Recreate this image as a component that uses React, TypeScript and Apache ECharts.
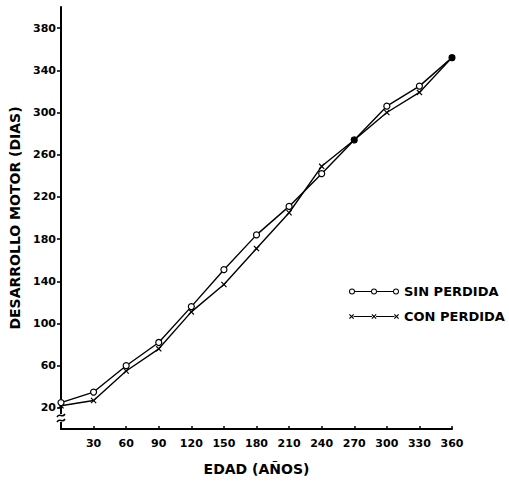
import React, { useEffect, useRef } from "react";
import * as echarts from "echarts";

const ages = [0, 30, 60, 90, 120, 150, 180, 210, 240, 270, 300, 330, 360];
const sinPerdida = [25, 35, 60, 82, 116, 151, 184, 211, 242, 274, 306, 325, 352];
const conPerdida = [22, 27, 55, 76, 111, 137, 171, 205, 249, 274, 300, 319, 352];
const xTicks = [30, 60, 90, 120, 150, 180, 210, 240, 270, 300, 330, 360];
const yTicks = [20, 60, 100, 140, 180, 220, 260, 300, 340, 380];

const FONT = "DejaVu Sans";

function ring(cx: number, cy: number, R: number, r: number) {
  return (
    `M${cx - R},${cy}A${R},${R} 0 1,1 ${cx + R},${cy}A${R},${R} 0 1,1 ${cx - R},${cy}Z` +
    `M${cx - r},${cy}A${r},${r} 0 1,0 ${cx + r},${cy}A${r},${r} 0 1,0 ${cx - r},${cy}Z`
  );
}
function cross(cx: number, cy: number, h: number, t: number) {
  const a = h, d = t;
  return (
    `M${cx - a},${cy - a + d}L${cx - a + d},${cy - a}L${cx},${cy - d}L${cx + a - d},${cy - a}L${cx + a},${cy - a + d}` +
    `L${cx + d},${cy}L${cx + a},${cy + a - d}L${cx + a - d},${cy + a}L${cx},${cy + d}L${cx - a + d},${cy + a}` +
    `L${cx - a},${cy + a - d}L${cx - d},${cy}Z`
  );
}
function bar(x1: number, x2: number, cy: number, t: number) {
  return `M${x1},${cy - t / 2}L${x2},${cy - t / 2}L${x2},${cy + t / 2}L${x1},${cy + t / 2}Z`;
}

const sinIcon =
  "path://" +
  ring(4, 4, 3, 2) + bar(7, 23, 4, 1) + ring(26, 4, 3, 2) + bar(29, 45, 4, 1) + ring(48, 4, 3, 2);
const conIcon =
  "path://" +
  cross(4, 4, 2.5, 0.8) + bar(6, 24, 4, 1) + cross(26, 4, 2.5, 0.8) + bar(28, 46, 4, 1) + cross(48, 4, 2.5, 0.8);
const xSymbol = "path://" + cross(5, 5, 5, 1.4);

export default function App() {
  const ref = useRef<HTMLDivElement>(null);
  useEffect(() => {
    if (!ref.current) return;
    const chart = echarts.init(ref.current, null, { renderer: "svg" });
    const labelStyle = { fontFamily: FONT, fontWeight: "bold" as const, fontSize: 11, color: "#000" };
    chart.setOption({
      animation: false,
      backgroundColor: "#fff",
      grid: { left: 61, right: 57, top: 7, bottom: 51 },
      xAxis: {
        type: "value",
        min: 0,
        max: 360,
        name: "EDAD (AÑOS)",
        nameLocation: "middle",
        nameGap: 33,
        nameTextStyle: { fontFamily: FONT, fontWeight: "bold", fontSize: 14, color: "#000" },
        axisLine: { onZero: false, lineStyle: { color: "#000", width: 2 } },
        axisTick: { inside: true, length: 3, customValues: xTicks, lineStyle: { color: "#000", width: 1.5 } },
        axisLabel: { ...labelStyle, margin: 9, customValues: xTicks },
        splitLine: { show: false },
      },
      yAxis: {
        type: "value",
        min: 0,
        max: 400,
        name: "DESARROLLO MOTOR (DIAS)",
        nameLocation: "middle",
        nameGap: 31,
        nameTextStyle: { fontFamily: FONT, fontWeight: "bold", fontSize: 14, color: "#000" },
        axisLine: { show: true, onZero: false, lineStyle: { color: "#000", width: 2 } },
        axisTick: { show: true, length: 4, customValues: yTicks, lineStyle: { color: "#000", width: 1.5 } },
        axisLabel: { ...labelStyle, margin: 5, customValues: yTicks },
        splitLine: { show: false },
      },
      legend: {
        orient: "vertical",
        left: 344,
        top: 280,
        itemWidth: 50,
        itemHeight: 6,
        itemGap: 12,
        textStyle: { fontFamily: FONT, fontWeight: "bold", fontSize: 13, color: "#000" },
        data: [
          { name: "SIN PERDIDA", icon: sinIcon, itemStyle: { color: "#000", borderWidth: 0 } },
          { name: "CON PERDIDA", icon: conIcon, itemStyle: { color: "#000", borderWidth: 0 } },
        ],
      },
      graphic: [
        { type: "rect", shape: { x: 57, y: 414, width: 8, height: 8 }, style: { fill: "#fff" }, z: 100 },
        {
          type: "bezierCurve",
          shape: { x1: 57, y1: 417, x2: 65, y2: 414, cpx1: 60, cpy1: 412, cpx2: 62, cpy2: 419 },
          style: { stroke: "#000", lineWidth: 1.5, fill: "none" },
          z: 101,
        },
        {
          type: "bezierCurve",
          shape: { x1: 57, y1: 422, x2: 65, y2: 419, cpx1: 60, cpy1: 417, cpx2: 62, cpy2: 424 },
          style: { stroke: "#000", lineWidth: 1.5, fill: "none" },
          z: 101,
        },
      ],
      series: [
        {
          name: "CON PERDIDA",
          type: "line",
          data: ages.map((a, i) => [a, conPerdida[i]]),
          symbol: xSymbol,
          symbolSize: 6,
          showAllSymbol: true,
          lineStyle: { color: "#000", width: 1.4 },
          itemStyle: { color: "#000", borderWidth: 0 },
          z: 2,
        },
        {
          name: "SIN PERDIDA",
          type: "line",
          data: ages.map((a, i) => [a, sinPerdida[i]]),
          symbol: "circle",
          symbolSize: 6,
          showAllSymbol: true,
          lineStyle: { color: "#000", width: 1.4 },
          itemStyle: {
            color: (p: any) =>
              sinPerdida[p.dataIndex] === conPerdida[p.dataIndex] ? "#000" : "#fff",
            borderColor: "#000",
            borderWidth: 1.2,
          },
          z: 3,
        },
      ],
    });
    return () => chart.dispose();
  }, []);
  return (
    <div
      ref={ref}
      style={{ position: "fixed", left: 0, top: 0, width: 509, height: 481, background: "#fff" }}
    />
  );
}
